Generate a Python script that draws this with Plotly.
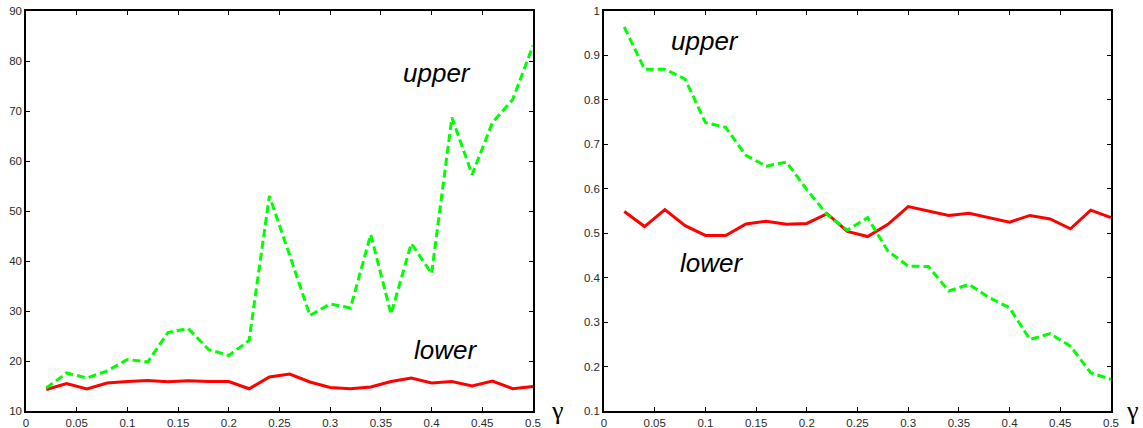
import plotly.graph_objects as go

gamma = [0.02, 0.04, 0.06, 0.08, 0.10, 0.12, 0.14, 0.16, 0.18, 0.20, 0.22, 0.24, 0.26,
         0.28, 0.30, 0.32, 0.34, 0.36, 0.38, 0.40, 0.42, 0.44, 0.46, 0.48, 0.50]

left_upper = [14.6, 17.6, 16.6, 18.0, 20.3, 19.8, 25.7, 26.5, 22.3, 21.1, 24.1, 53.0, 41.2,
              29.1, 31.4, 30.6, 45.3, 29.4, 43.5, 37.5, 68.7, 57.3, 67.7, 72.3, 83.1]
left_lower = [14.3, 15.5, 14.4, 15.6, 15.9, 16.1, 15.85, 16.05, 15.9, 15.9, 14.45, 16.8, 17.4,
              15.8, 14.7, 14.45, 14.8, 15.9, 16.6, 15.6, 15.9, 15.0, 16.0, 14.45, 14.9]

right_upper = [0.964, 0.869, 0.869, 0.847, 0.749, 0.738, 0.675, 0.651, 0.660, 0.598, 0.542, 0.507, 0.535,
               0.460, 0.426, 0.425, 0.370, 0.385, 0.355, 0.332, 0.261, 0.274, 0.246, 0.186, 0.171]
right_lower = [0.549, 0.515, 0.553, 0.517, 0.495, 0.495, 0.521, 0.527, 0.520, 0.522, 0.544, 0.504, 0.4925,
               0.520, 0.560, 0.550, 0.540, 0.545, 0.535, 0.525, 0.540, 0.532, 0.510, 0.552, 0.535]

x_ticks = [0, 0.05, 0.1, 0.15, 0.2, 0.25, 0.3, 0.35, 0.4, 0.45, 0.5]
left_y_ticks = [10, 20, 30, 40, 50, 60, 70, 80, 90]
right_y_ticks = [0.1, 0.2, 0.3, 0.4, 0.5, 0.6, 0.7, 0.8, 0.9, 1.0]
right_y_labels = ["0.1", "0.2", "0.3", "0.4", "0.5", "0.6", "0.7", "0.8", "0.9", "1"]

GREEN = "#00ff00"
RED = "#ff0000"

W, H = 1143, 428


def fx(px):
    return px / W


def fy(py):
    return (H - py) / H


fig = go.Figure()
fig.add_trace(go.Scatter(x=gamma, y=left_lower, mode="lines", line=dict(color=RED, width=3),
                         xaxis="x", yaxis="y", showlegend=False))
fig.add_trace(go.Scatter(x=gamma, y=left_upper, mode="lines",
                         line=dict(color=GREEN, width=3, dash="8px,4px"),
                         xaxis="x", yaxis="y", showlegend=False))
fig.add_trace(go.Scatter(x=gamma, y=right_lower, mode="lines", line=dict(color=RED, width=3),
                         xaxis="x2", yaxis="y2", showlegend=False))
fig.add_trace(go.Scatter(x=gamma, y=right_upper, mode="lines",
                         line=dict(color=GREEN, width=3, dash="8px,4px"),
                         xaxis="x2", yaxis="y2", showlegend=False))

tickfont = dict(family="Liberation Sans, Arial, sans-serif", size=11.5, color="#2a2a2a")
axis_common = dict(showline=True, linecolor="black", linewidth=1.5, mirror="ticks",
                   ticks="inside", ticklen=4, tickcolor="black", tickwidth=1,
                   showgrid=False, zeroline=False, tickfont=tickfont, automargin=False,
                   ticklabeloverflow="allow")

fig.update_layout(
    width=W, height=H,
    margin=dict(l=0, r=0, t=0, b=0),
    paper_bgcolor="white", plot_bgcolor="white",
    xaxis=dict(domain=[fx(26), fx(533)], range=[0, 0.5], tickvals=x_ticks, anchor="y", **axis_common),
    yaxis=dict(domain=[fy(411), fy(11)], range=[10, 90], tickvals=left_y_ticks, anchor="x", **axis_common),
    xaxis2=dict(domain=[fx(604), fx(1111)], range=[0, 0.5], tickvals=x_ticks, anchor="y2", **axis_common),
    yaxis2=dict(domain=[fy(411), fy(11)], range=[0.1, 1.0], tickvals=right_y_ticks, ticktext=right_y_labels,
                anchor="x2", **axis_common),
)

lab_font = dict(family="Liberation Sans, Arial, sans-serif", size=26, color="black")
gam_font = dict(family="Liberation Serif, Times New Roman, serif", size=26, color="black")

annots = [
    dict(x=0.405, y=77.6, xref="x", yref="y", text="<i>upper</i>"),
    dict(x=0.414, y=22.2, xref="x", yref="y", text="<i>lower</i>"),
    dict(x=0.0996, y=0.933, xref="x2", yref="y2", text="<i>upper</i>"),
    dict(x=0.106, y=0.434, xref="x2", yref="y2", text="<i>lower</i>"),
]
for a in annots:
    fig.add_annotation(showarrow=False, xanchor="center", yanchor="middle", font=lab_font, **a)

fig.add_annotation(x=fx(557), y=fy(410), xref="paper", yref="paper", text="γ",
                   showarrow=False, xanchor="center", yanchor="middle", font=gam_font)
fig.add_annotation(x=fx(1132), y=fy(410), xref="paper", yref="paper", text="γ",
                   showarrow=False, xanchor="center", yanchor="middle", font=gam_font)

fig.write_html("out.html", config={"displayModeBar": False},
               post_script="document.body.style.margin='0px';document.body.style.overflow='hidden';")
